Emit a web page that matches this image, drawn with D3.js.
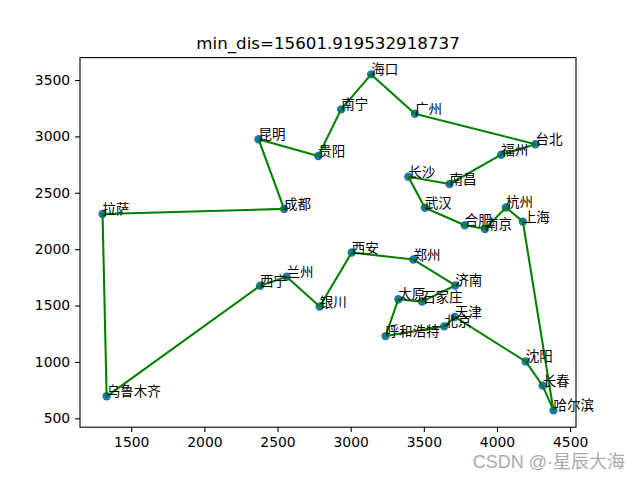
<!DOCTYPE html>
<html><head><meta charset="utf-8">
<script src="https://cdn.jsdelivr.net/npm/d3@7"></script>
<style>body{margin:0;background:#fff}</style>
</head><body><svg id="c" width="640" height="480"></svg>
<script>
const cities = ["拉萨","北京","上海","天津","石家庄","太原","呼和浩特","沈阳","长春","哈尔滨","西安","兰州","银川","西宁","乌鲁木齐","济南","南京","杭州","合肥","南昌","福州","台北","郑州","武汉","长沙","广州","南宁","海口","成都","贵阳","昆明"];
const xs = [1304,3639,4177,3712,3488,3326,3238,4196,4312,4386,3007,2562,2788,2381,1332,3715,3918,4061,3780,3676,4029,4263,3429,3507,3394,3439,2935,3140,2545,2778,2370];
const ys = [2312,1315,2244,1399,1535,1556,1229,1004,790,570,1970,1756,1491,1676,695,1678,2179,2370,2212,2578,2838,2931,1908,2367,2643,3201,3240,3550,2357,2826,2975];
const route = ["拉萨","成都","昆明","贵阳","南宁","海口","广州","台北","福州","南昌","长沙","武汉","合肥","南京","杭州","上海","哈尔滨","长春","沈阳","天津","北京","呼和浩特","太原","石家庄","济南","郑州","西安","银川","兰州","西宁","乌鲁木齐","拉萨"];
const xTicks = [1500,2000,2500,3000,3500,4000,4500];
const yTicks = [500,1000,1500,2000,2500,3000,3500];
const titleText = "min_dis=15601.919532918737";

const svg = d3.select("#c");
const L=80, R=576, T=57.6, B=427.2;
const xmin=d3.min(xs), xmax=d3.max(xs), ymin=d3.min(ys), ymax=d3.max(ys);
const mx=(xmax-xmin)*0.05, my=(ymax-ymin)*0.05;
const x = d3.scaleLinear().domain([xmin-mx,xmax+mx]).range([L,R]);
const y = d3.scaleLinear().domain([ymin-my,ymax+my]).range([B,T]);
const pts = cities.map((c,i)=>({c, x:xs[i], y:ys[i]}));
const byName = Object.fromEntries(pts.map(p=>[p.c,p]));

// axes
const fontTick = "DejaVu Sans, sans-serif";
const xa = svg.append("g").attr("transform",`translate(0,${B})`)
  .call(d3.axisBottom(x).tickValues(xTicks).tickSize(4.9).tickPadding(4.9).tickFormat(d3.format("d")));
const ya = svg.append("g").attr("transform",`translate(${L},0)`)
  .call(d3.axisLeft(y).tickValues(yTicks).tickSize(4.9).tickPadding(4.9).tickFormat(d3.format("d")));
[xa,ya].forEach(g=>{
  g.select(".domain").remove();
  g.selectAll("line").attr("stroke","#000").attr("stroke-width",1.1);
  g.selectAll("text").attr("font-family",fontTick).attr("font-size","13.9px").attr("fill","#000");
});
svg.append("rect").attr("x",L).attr("y",T).attr("width",R-L).attr("height",B-T)
  .attr("fill","none").attr("stroke","#000").attr("stroke-width",1.1);

// scatter
svg.append("g").selectAll("circle").data(pts).join("circle")
  .attr("cx",d=>x(d.x)).attr("cy",d=>y(d.y)).attr("r",4.2).attr("fill","#1f77b4");

// route
const line = d3.line().x(d=>x(d.x)).y(d=>y(d.y));
svg.append("path").datum(route.map(n=>byName[n])).attr("d",line)
  .attr("fill","none").attr("stroke","#008000").attr("stroke-width",2.08).attr("stroke-linejoin","round");

// labels
svg.append("g").selectAll("text").data(pts).join("text")
  .attr("x",d=>x(d.x)).attr("y",d=>y(d.y)).text(d=>d.c)
  .attr("font-family","Noto Sans CJK SC, sans-serif").attr("font-size","13.5px").attr("fill","#000");

// title
svg.append("text").attr("x",(L+R)/2).attr("y",T-8.3).attr("text-anchor","middle")
  .attr("font-family",fontTick).attr("font-size","16.7px").attr("fill","#000").text(titleText);

// watermark
const wm = svg.append("text").attr("x",625).attr("y",468).attr("text-anchor","end")
  .attr("font-size","18px").attr("fill","#aaaaaa");
wm.append("tspan").attr("font-family","Liberation Sans, Arial, sans-serif").text("CSDN @·");
wm.append("tspan").attr("font-family","Noto Sans CJK SC, sans-serif").text("星辰大海");
</script></body></html>
